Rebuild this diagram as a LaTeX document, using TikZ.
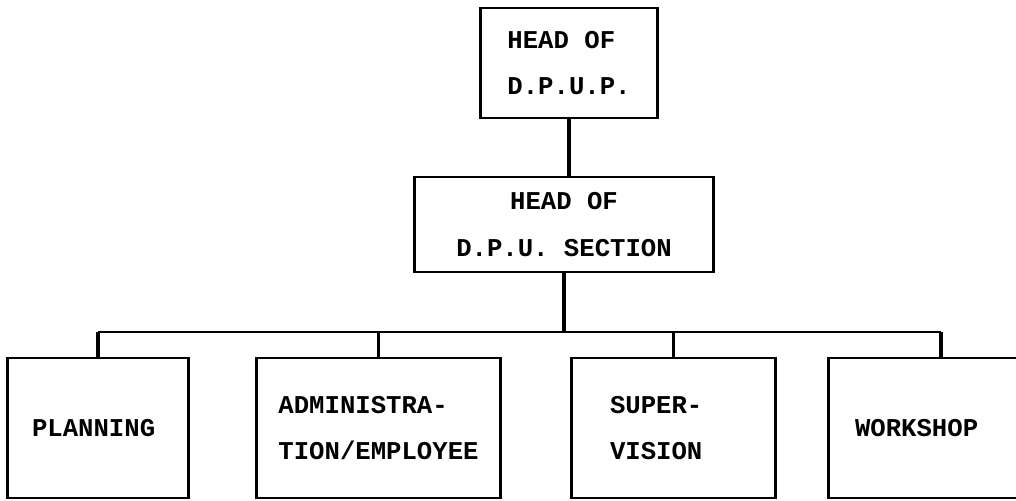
\documentclass[tikz,border=0pt]{standalone}
\usepackage{fontspec}
\newfontfamily\chartfont{Liberation Mono}
\usepackage{tikz}

\tikzset{
  unit/.style={draw, line width=0.8pt, inner sep=0pt, align=left,
    font=\chartfont\bfseries\fontsize{14.6}{26.4}\selectfont},
  side/.style={line width=1.8pt},
  bus/.style={line width=0.8pt}
}

\begin{document}
\begin{tikzpicture}[x=0.02cm,y=-0.02cm]
          \fill[white] (0,0) rectangle (1016,500);
          \useasboundingbox (0,0) rectangle (1016,500);
          \clip (0,0) rectangle (1016,500);
          \node[unit, minimum width=3.52cm, minimum height=2.2cm] (top) at (569,63) {HEAD OF\\D.P.U.P.};
          \node[unit, align=center, minimum width=5.96cm, minimum height=1.9cm] (mid) at (564,224.5) {HEAD OF\\D.P.U. SECTION};
          \node[unit, text width=2.64cm, minimum width=3.6cm, minimum height=2.8cm] (plan) at (98,428) {PLANNING};
          \node[unit, minimum width=4.86cm, minimum height=2.8cm] (adm) at (378.5,428) {ADMINISTRA-\\TION/EMPLOYEE};
          \node[unit, text width=2.54cm, minimum width=4.06cm, minimum height=2.8cm] (sup) at (673.5,428) {SUPER-\\VISION};
          \node[unit, text width=3.44cm, minimum width=4.48cm, minimum height=2.8cm] (work) at (941,428) {WORKSHOP};
          \coordinate (bus) at (0,332);
          % heavier vertical sides
          \foreach \n in {top,mid,plan,adm,sup,work}
            \draw[side] (\n.north west) -- (\n.south west) (\n.north east) -- (\n.south east);
          \draw[side] (top.south) -- (top.south |- mid.north);
          \draw[side] (mid.south) -- (mid.south |- bus);
          \draw[bus] (plan.north |- bus) -- (work.north |- bus);
          \foreach \n in {plan,adm,sup,work}
            \draw[side] (\n.north) -- (\n.north |- bus);
        \end{tikzpicture}
\end{document}
